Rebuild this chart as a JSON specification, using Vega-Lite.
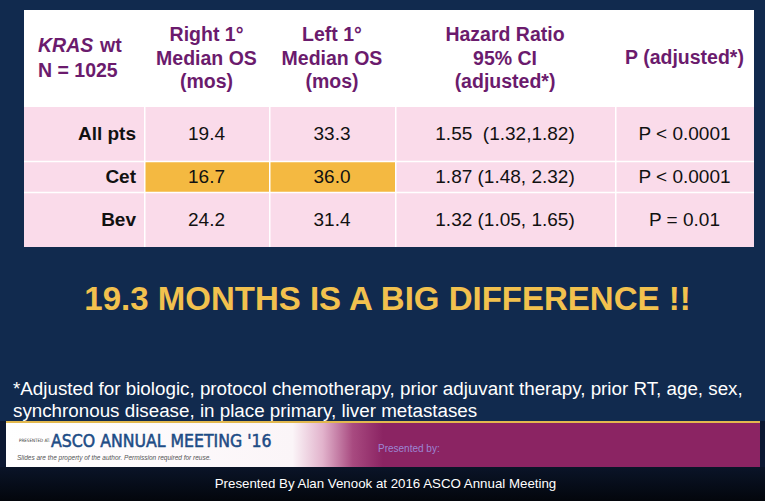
{
  "$schema": "https://vega.github.io/schema/vega-lite/v6.json",
  "background": "#112a4e",
  "padding": 0,
  "spacing": 0,
  "config": {
    "view": {"stroke": null},
    "concat": {"spacing": 0},
    "text": {"font": "Liberation Sans"}
  },
  "datasets": {
    "cells": [
      {"row": "All pts", "column": "right", "value": "19.4"},
      {"row": "All pts", "column": "left", "value": "33.3"},
      {"row": "All pts", "column": "hr", "value": "1.55\u00a0 (1.32,1.82)"},
      {"row": "All pts", "column": "p", "value": "P < 0.0001"},
      {"row": "Cet", "column": "right", "value": "16.7"},
      {"row": "Cet", "column": "left", "value": "36.0"},
      {"row": "Cet", "column": "hr", "value": "1.87 (1.48, 2.32)"},
      {"row": "Cet", "column": "p", "value": "P < 0.0001"},
      {"row": "Bev", "column": "right", "value": "24.2"},
      {"row": "Bev", "column": "left", "value": "31.4"},
      {"row": "Bev", "column": "hr", "value": "1.32 (1.05, 1.65)"},
      {"row": "Bev", "column": "p", "value": "P = 0.01"}
    ],
    "headers": [
      {"column": "right", "label": "Right 1°\nMedian OS\n(mos)"},
      {"column": "left", "label": "Left 1°\nMedian OS\n(mos)"},
      {"column": "hr", "label": "Hazard Ratio\n95% CI\n(adjusted*)"},
      {"column": "p", "label": "P (adjusted*)"}
    ]
  },
  "vconcat": [
    {"width": 765, "height": 10, "data": {"values": []}, "mark": "rect", "encoding": {}},
    {
      "spacing": 0,
      "hconcat": [
        {"width": 24, "height": 97, "data": {"values": []}, "mark": "rect", "encoding": {}},
        {
          "width": 120, "height": 97,
          "view": {"fill": "#ffffff", "stroke": null},
          "data": {"values": [{"gene": "KRAS", "status": "wt", "n": "N = 1025"}]},
          "layer": [
            {"mark": {"type": "text", "align": "left", "baseline": "middle", "fontSize": 19.5, "fontWeight": "bold", "fontStyle": "italic", "color": "#6b1b6d", "x": 14, "y": 36}, "encoding": {"text": {"field": "gene"}}},
            {"mark": {"type": "text", "align": "left", "baseline": "middle", "fontSize": 19.5, "fontWeight": "bold", "color": "#6b1b6d", "x": 76, "y": 36}, "encoding": {"text": {"field": "status"}}},
            {"mark": {"type": "text", "align": "left", "baseline": "middle", "fontSize": 19.5, "fontWeight": "bold", "color": "#6b1b6d", "x": 14, "y": 61}, "encoding": {"text": {"field": "n"}}}
          ]
        },
        {
          "width": 125, "height": 97,
          "view": {"fill": "#ffffff", "stroke": null},
          "data": {"name": "headers"},
          "transform": [{"filter": "datum.column === 'right'"}],
          "mark": {"type": "text", "baseline": "middle", "lineBreak": "\n", "lineHeight": 23.5, "fontSize": 19.5, "fontWeight": "bold", "color": "#6b1b6d", "y": 25},
          "encoding": {"text": {"field": "label"}}
        },
        {
          "width": 126, "height": 97,
          "view": {"fill": "#ffffff", "stroke": null},
          "data": {"name": "headers"},
          "transform": [{"filter": "datum.column === 'left'"}],
          "mark": {"type": "text", "baseline": "middle", "lineBreak": "\n", "lineHeight": 23.5, "fontSize": 19.5, "fontWeight": "bold", "color": "#6b1b6d", "y": 25},
          "encoding": {"text": {"field": "label"}}
        },
        {
          "width": 220, "height": 97,
          "view": {"fill": "#ffffff", "stroke": null},
          "data": {"name": "headers"},
          "transform": [{"filter": "datum.column === 'hr'"}],
          "mark": {"type": "text", "baseline": "middle", "lineBreak": "\n", "lineHeight": 23.5, "fontSize": 19.5, "fontWeight": "bold", "color": "#6b1b6d", "y": 25},
          "encoding": {"text": {"field": "label"}}
        },
        {
          "width": 139, "height": 97,
          "view": {"fill": "#ffffff", "stroke": null},
          "data": {"name": "headers"},
          "transform": [{"filter": "datum.column === 'p'"}],
          "mark": {"type": "text", "baseline": "middle", "fontSize": 19.5, "fontWeight": "bold", "color": "#6b1b6d", "y": 48},
          "encoding": {"text": {"field": "label"}}
        }
      ]
    },
    {
      "spacing": 0,
      "hconcat": [
        {"width": 24, "height": 140, "data": {"values": []}, "mark": "rect", "encoding": {}},
        {
          "width": 120, "height": 140,
          "view": {"fill": "#fadbea", "stroke": null},
          "data": {"name": "cells"},
          "transform": [{"filter": "datum.column === 'right'"}],
          "layer": [
            {"transform": [{"filter": "datum.row === 'Cet'"}], "mark": {"type": "rect", "height": {"band": 0.76}, "fill": "#ffffff"}, "encoding": {"y": {"field": "row", "type": "nominal", "axis": null, "scale": {"domain": ["All pts", "Cet", "Bev"], "paddingInner": 0, "paddingOuter": 0.128}}}},
            {"transform": [{"filter": "datum.row === 'Cet'"}], "mark": {"type": "rect", "height": {"band": 0.69}, "fill": "#fadbea"}, "encoding": {"y": {"field": "row", "type": "nominal", "axis": null, "scale": {"domain": ["All pts", "Cet", "Bev"], "paddingInner": 0, "paddingOuter": 0.128}}}},
            {"mark": {"type": "text", "align": "right", "baseline": "middle", "fontSize": 19, "fontWeight": "bold", "color": "#111111", "x": 112}, "encoding": {"y": {"field": "row", "type": "nominal", "axis": null, "scale": {"domain": ["All pts", "Cet", "Bev"], "paddingInner": 0, "paddingOuter": 0.128}}, "text": {"field": "row"}}}
          ]
        },
        {
          "width": 125, "height": 140,
          "view": {"fill": "#fadbea", "stroke": null},
          "data": {"name": "cells"},
          "transform": [{"filter": "datum.column === 'right'"}],
          "layer": [
            {"transform": [{"filter": "datum.row === 'Cet'"}], "mark": {"type": "rect", "height": {"band": 0.76}, "fill": "#ffffff"}, "encoding": {"y": {"field": "row", "type": "nominal", "axis": null, "scale": {"domain": ["All pts", "Cet", "Bev"], "paddingInner": 0, "paddingOuter": 0.128}}}},
            {"transform": [{"filter": "datum.row === 'Cet'"}], "mark": {"type": "rect", "height": {"band": 0.69}, "fill": "#f4b941"}, "encoding": {"y": {"field": "row", "type": "nominal", "axis": null, "scale": {"domain": ["All pts", "Cet", "Bev"], "paddingInner": 0, "paddingOuter": 0.128}}}},
            {"data": {"values": [{}]}, "mark": {"type": "rect", "fill": "#ffffff", "x": 0, "x2": 1.5}, "encoding": {}},
            {"mark": {"type": "text", "baseline": "middle", "fontSize": 19, "color": "#111111"}, "encoding": {"y": {"field": "row", "type": "nominal", "axis": null, "scale": {"domain": ["All pts", "Cet", "Bev"], "paddingInner": 0, "paddingOuter": 0.128}}, "text": {"field": "value"}}}
          ]
        },
        {
          "width": 126, "height": 140,
          "view": {"fill": "#fadbea", "stroke": null},
          "data": {"name": "cells"},
          "transform": [{"filter": "datum.column === 'left'"}],
          "layer": [
            {"transform": [{"filter": "datum.row === 'Cet'"}], "mark": {"type": "rect", "height": {"band": 0.76}, "fill": "#ffffff"}, "encoding": {"y": {"field": "row", "type": "nominal", "axis": null, "scale": {"domain": ["All pts", "Cet", "Bev"], "paddingInner": 0, "paddingOuter": 0.128}}}},
            {"transform": [{"filter": "datum.row === 'Cet'"}], "mark": {"type": "rect", "height": {"band": 0.69}, "fill": "#f4b941"}, "encoding": {"y": {"field": "row", "type": "nominal", "axis": null, "scale": {"domain": ["All pts", "Cet", "Bev"], "paddingInner": 0, "paddingOuter": 0.128}}}},
            {"data": {"values": [{}]}, "mark": {"type": "rect", "fill": "#ffffff", "x": 0, "x2": 1.5}, "encoding": {}},
            {"mark": {"type": "text", "baseline": "middle", "fontSize": 19, "color": "#111111"}, "encoding": {"y": {"field": "row", "type": "nominal", "axis": null, "scale": {"domain": ["All pts", "Cet", "Bev"], "paddingInner": 0, "paddingOuter": 0.128}}, "text": {"field": "value"}}}
          ]
        },
        {
          "width": 220, "height": 140,
          "view": {"fill": "#fadbea", "stroke": null},
          "data": {"name": "cells"},
          "transform": [{"filter": "datum.column === 'hr'"}],
          "layer": [
            {"transform": [{"filter": "datum.row === 'Cet'"}], "mark": {"type": "rect", "height": {"band": 0.76}, "fill": "#ffffff"}, "encoding": {"y": {"field": "row", "type": "nominal", "axis": null, "scale": {"domain": ["All pts", "Cet", "Bev"], "paddingInner": 0, "paddingOuter": 0.128}}}},
            {"transform": [{"filter": "datum.row === 'Cet'"}], "mark": {"type": "rect", "height": {"band": 0.69}, "fill": "#fadbea"}, "encoding": {"y": {"field": "row", "type": "nominal", "axis": null, "scale": {"domain": ["All pts", "Cet", "Bev"], "paddingInner": 0, "paddingOuter": 0.128}}}},
            {"data": {"values": [{}]}, "mark": {"type": "rect", "fill": "#ffffff", "x": 0, "x2": 1.5}, "encoding": {}},
            {"mark": {"type": "text", "baseline": "middle", "fontSize": 19, "color": "#111111"}, "encoding": {"y": {"field": "row", "type": "nominal", "axis": null, "scale": {"domain": ["All pts", "Cet", "Bev"], "paddingInner": 0, "paddingOuter": 0.128}}, "text": {"field": "value"}}}
          ]
        },
        {
          "width": 139, "height": 140,
          "view": {"fill": "#fadbea", "stroke": null},
          "data": {"name": "cells"},
          "transform": [{"filter": "datum.column === 'p'"}],
          "layer": [
            {"transform": [{"filter": "datum.row === 'Cet'"}], "mark": {"type": "rect", "height": {"band": 0.76}, "fill": "#ffffff"}, "encoding": {"y": {"field": "row", "type": "nominal", "axis": null, "scale": {"domain": ["All pts", "Cet", "Bev"], "paddingInner": 0, "paddingOuter": 0.128}}}},
            {"transform": [{"filter": "datum.row === 'Cet'"}], "mark": {"type": "rect", "height": {"band": 0.69}, "fill": "#fadbea"}, "encoding": {"y": {"field": "row", "type": "nominal", "axis": null, "scale": {"domain": ["All pts", "Cet", "Bev"], "paddingInner": 0, "paddingOuter": 0.128}}}},
            {"data": {"values": [{}]}, "mark": {"type": "rect", "fill": "#ffffff", "x": 0, "x2": 1.5}, "encoding": {}},
            {"mark": {"type": "text", "baseline": "middle", "fontSize": 19, "color": "#111111"}, "encoding": {"y": {"field": "row", "type": "nominal", "axis": null, "scale": {"domain": ["All pts", "Cet", "Bev"], "paddingInner": 0, "paddingOuter": 0.128}}, "text": {"field": "value"}}}
          ]
        }
      ]
    },
    {
      "width": 765, "height": 130,
      "data": {"values": [{"headline": "19.3 MONTHS IS A BIG DIFFERENCE !!"}]},
      "mark": {"type": "text", "baseline": "middle", "fontSize": 33, "fontWeight": "bold", "color": "#f2c14e", "dx": 5, "y": 53},
      "encoding": {"text": {"field": "headline"}}
    },
    {
      "width": 765, "height": 44,
      "data": {"values": [{"note": "*Adjusted for biologic, protocol chemotherapy, prior adjuvant therapy, prior RT, age, sex,\nsynchronous disease, in place primary, liver metastases"}]},
      "mark": {"type": "text", "align": "left", "baseline": "middle", "lineBreak": "\n", "lineHeight": 22, "fontSize": 18.8, "color": "#ffffff", "x": 13, "y": 12},
      "encoding": {"text": {"field": "note"}}
    },
    {
      "spacing": 0,
      "hconcat": [
        {"width": 6, "height": 46, "view": {"fill": "#0c1832", "stroke": null}, "data": {"values": []}, "mark": "rect", "encoding": {}},
        {
          "spacing": 0,
          "vconcat": [
            {"width": 754, "height": 2, "view": {"fill": "#e2b84e", "stroke": null}, "data": {"values": []}, "mark": "rect", "encoding": {}},
            {
              "width": 754, "height": 44,
              "layer": [
                {"data": {"values": [{}]}, "mark": {"type": "rect", "fill": {"gradient": "linear", "x1": 0, "y1": 0, "x2": 1, "y2": 0, "stops": [{"offset": 0, "color": "#ffffff"}, {"offset": 0.38, "color": "#fbf5f8"}, {"offset": 0.42, "color": "#e2b3cc"}, {"offset": 0.46, "color": "#a84a80"}, {"offset": 0.5, "color": "#8b2463"}, {"offset": 1, "color": "#8b2463"}]}}, "encoding": {}},
                {"data": {"values": [{"t": "PRESENTED AT:"}]}, "mark": {"type": "text", "align": "left", "baseline": "middle", "font": "DejaVu Sans Condensed", "fontSize": 4.5, "color": "#333333", "x": 13, "y": 18}, "encoding": {"text": {"field": "t"}}},
                {"data": {"values": [{"t": "ASCO ANNUAL MEETING '16"}]}, "mark": {"type": "text", "align": "left", "baseline": "middle", "font": "DejaVu Sans Condensed", "fontSize": 17.5, "color": "#1d4c86", "stroke": "#1d4c86", "strokeWidth": 0.5, "x": 45, "y": 19}, "encoding": {"text": {"field": "t"}}},
                {"data": {"values": [{"t": "Slides are the property of the author. Permission required for reuse."}]}, "mark": {"type": "text", "align": "left", "baseline": "middle", "fontSize": 6.5, "fontStyle": "italic", "color": "#555555", "x": 11, "y": 35}, "encoding": {"text": {"field": "t"}}},
                {"data": {"values": [{"t": "Presented by:"}]}, "mark": {"type": "text", "align": "left", "baseline": "middle", "fontSize": 10, "color": "#9c86d4", "x": 372, "y": 26}, "encoding": {"text": {"field": "t"}}}
              ]
            }
          ]
        },
        {"width": 5, "height": 46, "view": {"fill": "#0c1832", "stroke": null}, "data": {"values": []}, "mark": "rect", "encoding": {}}
      ]
    },
    {
      "width": 765, "height": 34,
      "layer": [
        {"data": {"values": [{}]}, "mark": {"type": "rect", "fill": {"gradient": "linear", "x1": 0, "y1": 0, "x2": 0, "y2": 1, "stops": [{"offset": 0, "color": "#0a1428"}, {"offset": 1, "color": "#03060c"}]}}, "encoding": {}},
        {"data": {"values": [{"credit": "Presented By Alan Venook at 2016 ASCO Annual Meeting"}]}, "mark": {"type": "text", "baseline": "middle", "fontSize": 13.3, "color": "#ffffff", "dx": 3}, "encoding": {"text": {"field": "credit"}}}
      ]
    }
  ]
}
